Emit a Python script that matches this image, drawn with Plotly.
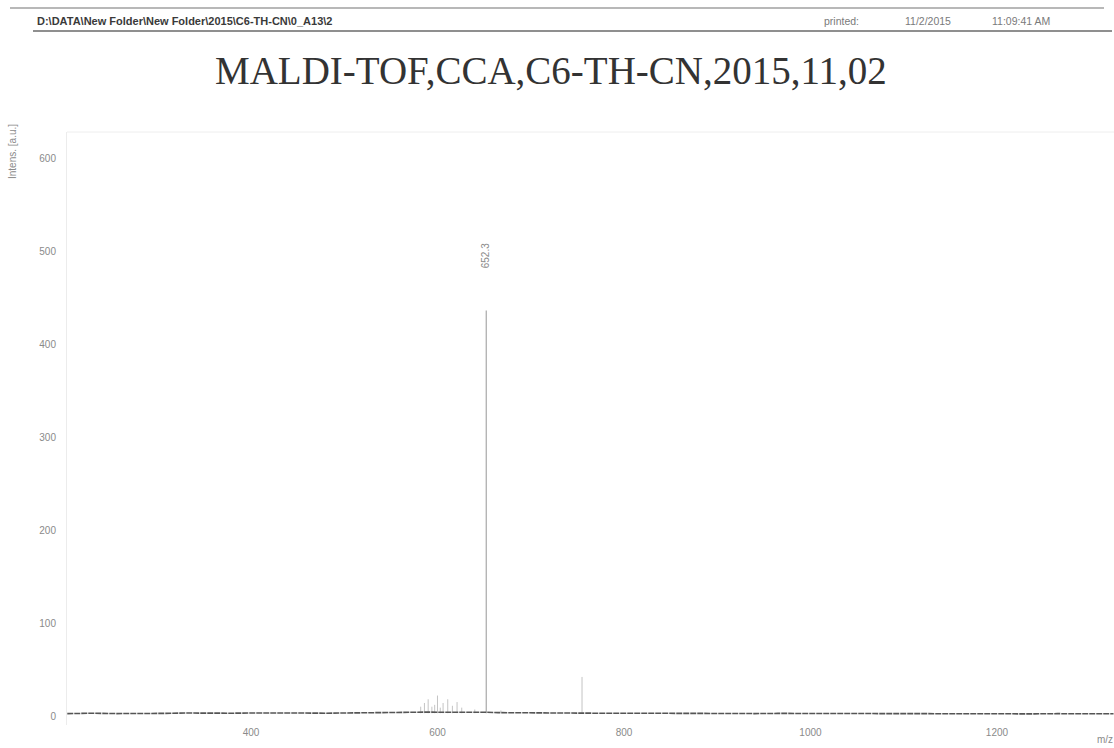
import plotly.graph_objects as go

# ---------------- data ----------------
baseline_mz = [203, 230, 255, 280, 305, 330, 355, 380, 405, 430, 455, 480, 505,
               530, 555, 575, 590, 605, 620, 635, 650, 665, 690, 715, 740, 765,
               790, 815, 840, 865, 890, 915, 940, 965, 990, 1015, 1040, 1065,
               1090, 1115, 1140, 1165, 1190, 1215, 1240, 1265, 1290, 1325]
baseline_int = [2.5, 3.0, 2.6, 3.1, 2.8, 3.2, 2.7, 3.0, 3.3, 2.9, 3.2, 3.0, 3.4,
                3.1, 3.5, 3.8, 4.2, 4.0, 4.3, 3.9, 4.1, 3.6, 3.3, 3.2, 3.0, 3.1,
                2.9, 3.0, 2.8, 3.0, 2.7, 2.9, 2.6, 2.8, 2.7, 2.5, 2.8, 2.6,
                2.7, 2.5, 2.6, 2.4, 2.6, 2.5, 2.3, 2.5, 2.4, 2.4]

minor_mz = [582, 586, 590, 594, 597, 600, 603, 606, 611, 616, 621, 626, 640, 668, 755]
minor_int = [10, 14, 18, 10, 12, 22, 9, 14, 18, 11, 15, 9, 7, 6, 42]

main_mz = [652.3]
main_int = [436]

label_text = "652.3"

x_ticks = [400, 600, 800, 1000, 1200]
y_ticks = [0, 100, 200, 300, 400, 500, 600]

header_path = "D:\\DATA\\New Folder\\New Folder\\2015\\C6-TH-CN\\0_A13\\2"
printed_label = "printed:"
printed_date = "11/2/2015"
printed_time = "11:09:41 AM"
title_text = "MALDI-TOF,CCA,C6-TH-CN,2015,11,02"

# ---------------- layout geometry ----------------
W, H = 1114, 748
ML, MR, MT, MB = 67, 0, 132, 23
PW, PH = W - ML - MR, H - MT - MB


def px(x):
    return (x - ML) / PW


def py(y):
    return (H - MB - y) / PH


def sticks(mz, inten, base=3):
    xs, ys = [], []
    for m, v in zip(mz, inten):
        xs += [m, m, None]
        ys += [base, v, None]
    return xs, ys


fig = go.Figure()

mx, my = sticks(minor_mz, minor_int)
fig.add_trace(go.Scatter(x=mx, y=my, mode="lines",
                         line=dict(color="#c4c4c4", width=1),
                         hoverinfo="skip", showlegend=False))

Mx, My = sticks(main_mz, main_int)
fig.add_trace(go.Scatter(x=Mx, y=My, mode="lines",
                         line=dict(color="#a8a8a8", width=1.2),
                         hoverinfo="skip", showlegend=False))

fig.add_trace(go.Scatter(x=baseline_mz, y=baseline_int, mode="lines",
                         line=dict(color="#555555", width=1.6, dash="6px,1px"),
                         hoverinfo="skip", showlegend=False))

fig.add_annotation(x=main_mz[0], y=main_int[0], text=label_text,
                   textangle=-90, showarrow=False, yanchor="bottom",
                   yshift=40, xshift=-1,
                   font=dict(family="Liberation Sans, Arial", size=10, color="#8a8a8a"))

# header
fig.add_shape(type="line", xref="paper", yref="paper",
              x0=px(10), x1=px(1104), y0=py(8), y1=py(8),
              line=dict(color="#a0a0a0", width=1.5))
fig.add_shape(type="line", xref="paper", yref="paper",
              x0=px(33), x1=px(1112), y0=py(31), y1=py(31),
              line=dict(color="#6a6a6a", width=1.5))
fig.add_shape(type="line", xref="paper", yref="paper",
              x0=0, x1=1, y0=1, y1=1,
              line=dict(color="#eeeeee", width=1))

fig.add_annotation(xref="paper", yref="paper", x=px(35), y=py(21),
                   xanchor="left", yanchor="middle", showarrow=False,
                   text="<b>" + header_path + "</b>",
                   font=dict(family="Liberation Sans, Arial", size=11, color="#3a3a3a"))
fig.add_annotation(xref="paper", yref="paper", x=px(822), y=py(21),
                   xanchor="left", yanchor="middle", showarrow=False,
                   text=printed_label,
                   font=dict(family="Liberation Sans, Arial", size=10.5, color="#7a7a7a"))
fig.add_annotation(xref="paper", yref="paper", x=px(903), y=py(21),
                   xanchor="left", yanchor="middle", showarrow=False,
                   text=printed_date,
                   font=dict(family="Liberation Sans, Arial", size=10.5, color="#7a7a7a"))
fig.add_annotation(xref="paper", yref="paper", x=px(990), y=py(21),
                   xanchor="left", yanchor="middle", showarrow=False,
                   text=printed_time,
                   font=dict(family="Liberation Sans, Arial", size=10.5, color="#7a7a7a"))

# title
fig.add_annotation(xref="paper", yref="paper", x=px(551), y=py(70),
                   xanchor="center", yanchor="middle", showarrow=False,
                   text=title_text,
                   font=dict(family="Liberation Serif, Times New Roman", size=39, color="#333333"))

# y-axis title
fig.add_annotation(xref="paper", yref="paper", x=px(13), y=py(152),
                   xanchor="center", yanchor="middle", showarrow=False,
                   text="Intens. [a.u.]", textangle=-90,
                   font=dict(family="Liberation Sans, Arial", size=10, color="#8a8a8a"))

# m/z label
fig.add_annotation(xref="paper", yref="paper", x=px(1095), y=py(739),
                   xanchor="left", yanchor="middle", showarrow=False,
                   text="m/z",
                   font=dict(family="Liberation Sans, Arial", size=10, color="#8a8a8a"))

fig.update_layout(
    width=W, height=H,
    margin=dict(l=ML, r=MR, t=MT, b=MB),
    paper_bgcolor="white", plot_bgcolor="white",
    showlegend=False,
    xaxis=dict(range=[202.7, 202.7 + PW / 0.9325], tickvals=x_ticks,
               showgrid=False, zeroline=False, showline=False, ticks="",
               tickfont=dict(family="Liberation Sans, Arial", size=10, color="#8a8a8a")),
    yaxis=dict(range=[-(H - MB - 716) / 0.93, (716 - MT) / 0.93], tickvals=y_ticks,
               showgrid=False, zeroline=False, showline=True, linecolor="#ececec",
               linewidth=1, ticks="", ticklabelstandoff=8,
               tickfont=dict(family="Liberation Sans, Arial", size=10, color="#8a8a8a")),
)

fig.write_html("out.html")
